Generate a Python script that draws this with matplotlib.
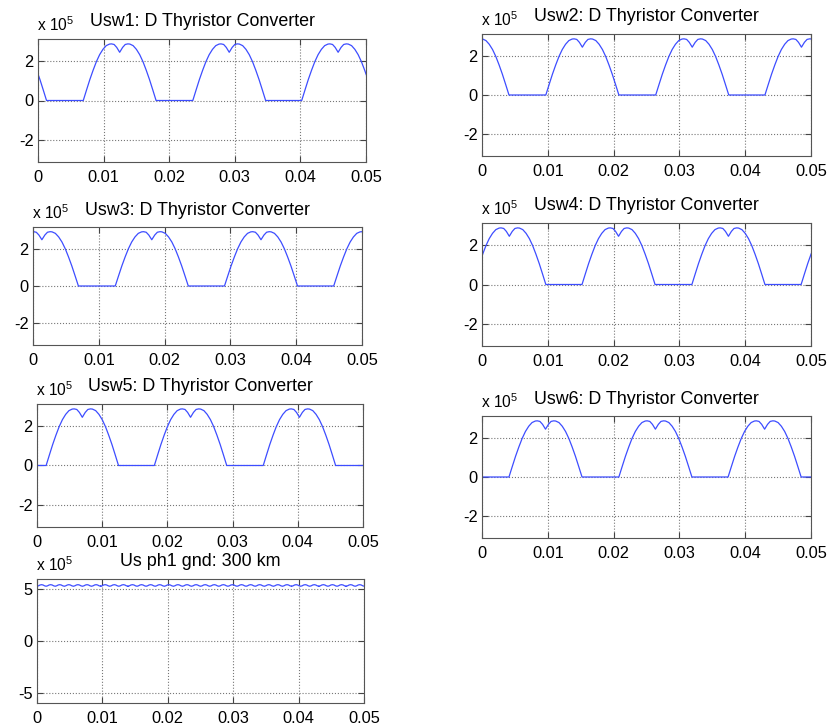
import numpy as np
import matplotlib
matplotlib.use("Agg")
import matplotlib.pyplot as plt

plt.rcParams['font.family'] = ['Liberation Sans', 'DejaVu Sans']
plt.rcParams['mathtext.fontset'] = 'custom'
plt.rcParams['mathtext.rm'] = 'Liberation Sans'
plt.rcParams['mathtext.default'] = 'regular'

# one conduction pulse of a valve voltage (s after rise, x 1e5 V)
pulse_dt = [0.0, 0.0005, 0.0010, 0.0015, 0.0020, 0.0025, 0.0030, 0.0035, 0.0040, 0.0043,
            0.0047, 0.0051, 0.00555, 0.0060, 0.0064, 0.0068, 0.0071, 0.0076, 0.0081,
            0.0086, 0.0091, 0.0096, 0.0101, 0.0106, 0.0111]
pulse_v = [0.0, 0.54, 1.07, 1.55, 1.99, 2.35, 2.62, 2.81, 2.89, 2.90,
           2.87, 2.72, 2.47, 2.72, 2.87, 2.90, 2.89, 2.81, 2.62,
           2.35, 1.99, 1.55, 1.07, 0.54, 0.0]

# times where each valve voltage starts rising from zero
usw1_rise = [-0.0098, 0.0069, 0.0236, 0.0402]
usw2_rise = [-0.0070, 0.0097, 0.0264, 0.0430]
usw3_rise = [-0.0042, 0.0125, 0.0291, 0.0457]
usw4_rise = [-0.0014, 0.0152, 0.0319, 0.0485]
usw5_rise = [0.0014, 0.0180, 0.0347]
usw6_rise = [0.0041, 0.0208, 0.0374]

# pole voltage ripple (one cycle) and its period
ripple_dt = [0.0, 0.00023, 0.00046, 0.0007, 0.00093, 0.00116, 0.00139]
ripple_v = [5.30, 5.34, 5.42, 5.45, 5.42, 5.34, 5.30]
ripple_period = 0.00139
ripple_cycles = 37

xticks = [0, 0.01, 0.02, 0.03, 0.04, 0.05]
xticklabels = ['0', '0.01', '0.02', '0.03', '0.04', '0.05']

line_color = '#3d4dff'


def valve_wave(rises):
    t = [-0.02]
    v = [0.0]
    for s in rises:
        t += [s + d for d in pulse_dt]
        v += pulse_v
    t.append(0.07)
    v.append(0.0)
    return t, v


def style(ax, ylim, yticks, title):
    ax.set_xlim(0, 0.05)
    ax.set_ylim(*ylim)
    ax.set_xticks(xticks)
    ax.set_xticklabels(xticklabels)
    ax.set_yticks(yticks)
    ax.set_yticklabels([str(y) for y in yticks])
    ax.grid(True, linestyle=':', color='#777777', linewidth=0.8)
    ax.tick_params(direction='in', top=True, right=True, length=4,
                   labelsize=11.8, color='#444444')
    ax.tick_params(axis='x', pad=6)
    ax.tick_params(axis='y', pad=3)
    for s in ax.spines.values():
        s.set_color('#555555')
        s.set_linewidth(0.8)
    ax.set_title(title, fontsize=12.9, pad=9)
    ax.annotate(r'x 10$^5$', xy=(0, 1), xycoords='axes fraction',
                xytext=(-1, 6), textcoords='offset points',
                ha='left', va='baseline', fontsize=11.2)


W, H = 830, 726
fig = plt.figure(figsize=(W / 100, H / 100), dpi=100)


def box(l, r, t, b):
    return [l / W, 1 - b / H, (r - l) / W, (b - t) / H]


panels = [
    ('Usw1: D Thyristor Converter', usw1_rise, box(38, 366, 39, 162)),
    ('Usw2: D Thyristor Converter', usw2_rise, box(482, 811, 34, 156)),
    ('Usw3: D Thyristor Converter', usw3_rise, box(33, 362, 227, 345)),
    ('Usw4: D Thyristor Converter', usw4_rise, box(482, 811, 223, 346)),
    ('Usw5: D Thyristor Converter', usw5_rise, box(37, 363, 404, 527)),
    ('Usw6: D Thyristor Converter', usw6_rise, box(482, 811, 416, 538)),
]

for title, rises, rect in panels:
    ax = fig.add_axes(rect)
    t, v = valve_wave(rises)
    ax.plot(t, v, color=line_color, linewidth=0.9)
    style(ax, (-3.15, 3.15), [-2, 0, 2], title)

ax = fig.add_axes(box(37, 364, 579, 703))
starts = np.arange(ripple_cycles) * ripple_period
t = np.concatenate([s + np.array(ripple_dt) for s in starts])
v = np.tile(ripple_v, ripple_cycles)
ax.plot(t, v, color=line_color, linewidth=0.9)
style(ax, (-6, 6), [-5, 0, 5], 'Us ph1 gnd: 300 km')

fig.savefig('out.png', dpi=100)
